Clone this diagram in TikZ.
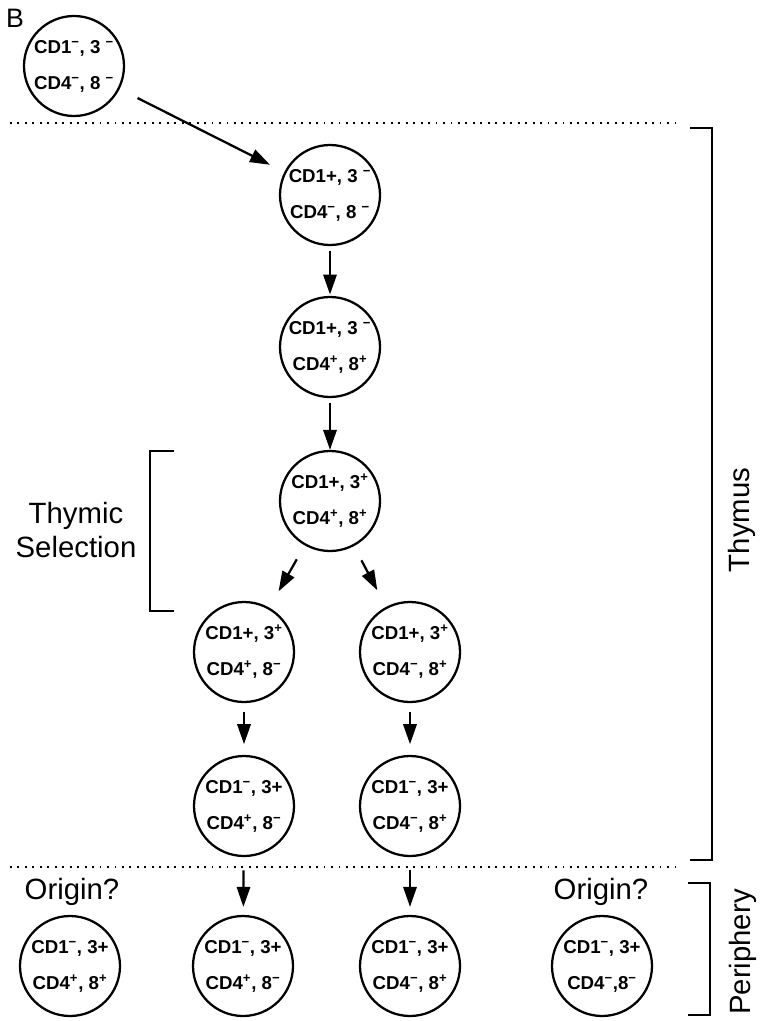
\documentclass[tikz,border=0pt]{standalone}
\usepackage{fontspec}
\setmainfont{Liberation Sans}
\usetikzlibrary{arrows.meta}
\newcommand{\up}[1]{\textsuperscript{#1}}
\newcommand{\mn}{\textsuperscript{\char"2212}}
\begin{document}
\begin{tikzpicture}[x=0.75pt,y=-0.75pt,
  cell/.style={circle,draw,line width=1.7pt,minimum size=75pt,inner sep=0pt,align=center,
    font=\fontsize{14}{27}\selectfont\bfseries},
  arr/.style={line width=1.7pt,-{Triangle[length=15pt,width=10pt]}},
  big/.style={font=\fontsize{22}{26}\selectfont,align=center},
  sep/.style={line width=1.4pt,dash pattern=on 1.4pt off 4.2pt},
  brk/.style={line width=1.7pt}]
\useasboundingbox (0,0) rectangle (764,1021);
\node[font=\fontsize{20}{22}\selectfont] (lab) at (15,18) {B};
% cells
\node[cell] (c0) at (74,66) {CD1\mn, 3 \mn\\CD4\mn, 8 \mn};
\node[cell] (c1) at (330,195) {CD1+, 3 \mn\\CD4\mn, 8 \mn};
\node[cell] (c2) at (330,347) {CD1+, 3 \mn\\CD4\up{+}, 8\up{+}};
\node[cell] (c3) at (330,501) {CD1+, 3\up{+}\\CD4\up{+}, 8\up{+}};
\node[cell] (c4) at (244,652) {CD1+, 3\up{+}\\CD4\up{+}, 8\mn};
\node[cell] (c5) at (410,652) {CD1+, 3\up{+}\\CD4\mn, 8\up{+}};
\node[cell] (c6) at (244,806) {CD1\mn, 3+\\CD4\up{+}, 8\mn};
\node[cell] (c7) at (410,806) {CD1\mn, 3+\\CD4\mn, 8\up{+}};
\node[cell] (b0) at (70,966) {CD1\mn, 3+\\CD4\up{+}, 8\up{+}};
\node[cell] (b1) at (243,966) {CD1\mn, 3+\\CD4\up{+}, 8\mn};
\node[cell] (b2) at (410,966) {CD1\mn, 3+\\CD4\mn, 8\up{+}};
\node[cell] (b3) at (602,966) {CD1\mn, 3+\\CD4\mn ,8\mn};
% arrows
\draw[arr,shorten <=15pt,shorten >=12pt] (c0) -- (c1);
\draw[arr,shorten <=4pt,shorten >=1pt] (c1) -- (c2);
\draw[arr,shorten <=4pt,shorten >=0pt] (c2) -- (c3);
\draw[arr,shorten <=12pt,shorten >=14pt] (c3) -- (c4);
\draw[arr,shorten <=12pt,shorten >=14pt] (c3) -- (c5);
\draw[arr,shorten <=7pt,shorten >=8pt] (c4) -- (c6);
\draw[arr,shorten <=7pt,shorten >=8pt] (c5) -- (c7);
\draw[arr,shorten <=10pt,shorten >=6pt] (c6) -- (b1);
\draw[arr,shorten <=10pt,shorten >=6pt] (c7) -- (b2);
% separators
\coordinate (s1a) at (10,123); \coordinate (s1b) at (680,123);
\coordinate (s2a) at (10,867); \coordinate (s2b) at (680,867);
\draw[sep] (s1a) -- (s1b);
\draw[sep] (s2a) -- (s2b);
% thymus bracket
\coordinate (t1) at (690,128); \coordinate (t2) at (712,128);
\coordinate (t3) at (712,860); \coordinate (t4) at (690,860);
\draw[brk] (t1) -- (t2) -- (t3) -- (t4);
\node[big,rotate=90] (thy) at (742,520) {Thymus};
% periphery bracket
\coordinate (p1) at (688,883); \coordinate (p2) at (710,883);
\coordinate (p3) at (710,1015); \coordinate (p4) at (688,1015);
\draw[brk] (p1) -- (p2) -- (p3) -- (p4);
\node[big,rotate=90] (per) at (743,952) {Periphery};
% thymic selection bracket
\coordinate (q1) at (174,451); \coordinate (q2) at (150,451);
\coordinate (q3) at (150,611); \coordinate (q4) at (174,611);
\draw[brk] (q1) -- (q2) -- (q3) -- (q4);
\node[big] (sel) at (76,530) {Thymic\\Selection};
% origin labels
\node[big] (o1) at (72,892) {Origin?};
\node[big] (o2) at (601,892) {Origin?};
\end{tikzpicture}
\end{document}
